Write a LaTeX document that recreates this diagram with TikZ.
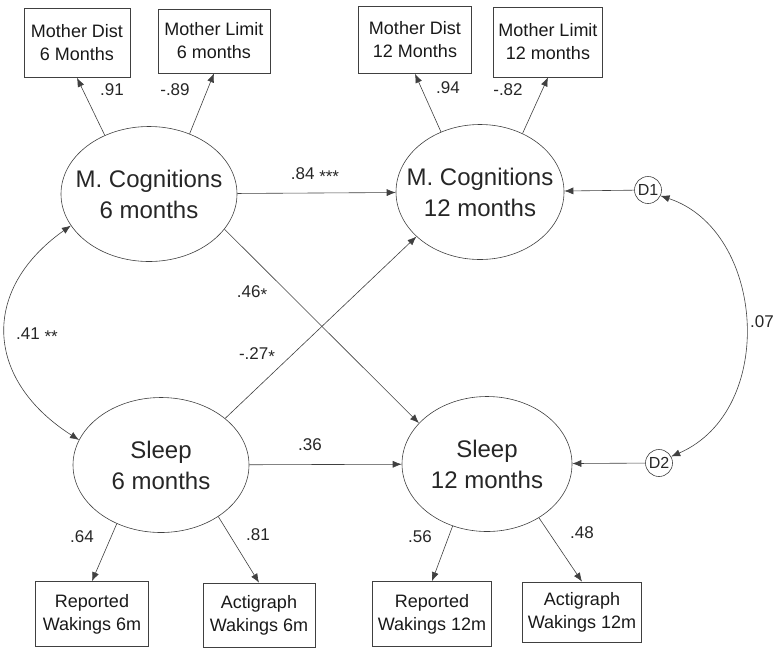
\documentclass[tikz,border=0pt]{standalone}
\usepackage{fontspec}
\setmainfont{Liberation Sans}
\usetikzlibrary{shapes,arrows.meta}

\begin{document}
\begin{tikzpicture}[x=1pt, y=-1pt, >={Latex[length=9pt,width=7pt]},
  lat/.style={ellipse, draw=black!75, line width=0.6pt, inner xsep=-14pt, inner ysep=0pt, minimum width=176pt, minimum height=135pt, align=center, text=black!85, font=\fontsize{24}{31}\selectfont},
  obs/.style={rectangle, draw=black!75, line width=0.7pt, minimum width=112pt, minimum height=66pt, inner xsep=2pt, align=center, text=black!90, font=\fontsize{18}{23}\selectfont},
  err/.style={circle, draw=black!75, line width=0.6pt, minimum size=27pt, inner sep=0pt, text=black!85, font=\fontsize{16}{18}\selectfont},
  arr/.style={draw=black!75, line width=0.6pt, ->},
  coef/.style={text=black!85, font=\fontsize{17}{19}\selectfont}]
\useasboundingbox (0,0) rectangle (781,657);
\node[lat] (mc6) at (149,194) {M. Cognitions\\6 months};
\node[lat, minimum width=168pt] (mc12) at (480,192) {M. Cognitions\\12 months};
\node[lat] (sl6) at (161,465) {Sleep\\6 months};
\node[lat, minimum width=170pt] (sl12) at (487,464) {Sleep\\12 months};
\node[obs, minimum width=106pt, minimum height=69pt] (md6) at (77,43) {Mother Dist\\6 Months};
\node[obs, minimum height=64pt] (ml6) at (214,41) {Mother Limit\\6 months};
\node[obs, minimum width=113pt, minimum height=67pt] (md12) at (415,40) {Mother Dist\\12 Months};
\node[obs, minimum width=109pt, minimum height=70pt] (ml12) at (548,42) {Mother Limit\\12 months};
\node[obs, minimum width=113pt, minimum height=65pt] (rw6) at (92,614) {Reported\\Wakings 6m};
\node[obs, minimum height=64pt] (aw6) at (259,615) {Actigraph\\Wakings 6m};
\node[obs, minimum width=119pt, minimum height=65pt] (rw12) at (432,614) {Reported\\Wakings 12m};
\node[obs, minimum width=119pt, minimum height=60pt] (aw12) at (582,612) {Actigraph\\Wakings 12m};
\node[err] (d1) at (648,190) {D1};
\node[err] (d2) at (659,463) {D2};
\draw[arr] (mc6.127) -- (md6.south);
\draw[arr] (mc6.56) -- (ml6.south);
\draw[arr] (mc12.123) -- (md12.south);
\draw[arr] (mc12.54) -- (ml12.south);
\draw[arr] (sl6.233) -- (rw6.north);
\draw[arr] (sl6.318) -- (aw6.north);
\draw[arr] (sl12.241) -- (rw12.north);
\draw[arr] (sl12.314) -- (aw12.north);
\draw[arr] (mc6) -- (mc12);
\draw[arr] (sl6) -- (sl12);
\draw[arr] (mc6.335) -- (sl12.149);
\draw[arr] (sl6.36) -- (mc12.215);
\draw[arr] (d1) -- (mc12);
\draw[arr] (d2) -- (sl12);
\draw[arr, <->] (mc6.202) .. controls (-20,290) and (-15,380) .. (sl6.163);
\draw[arr, <->] (d1.335) .. controls (765,230) and (778,410) .. (d2.28);
\node[coef] (l91) at (112,90) {.91};
\node[coef] (l89) at (175,90) {-.89};
\node[coef] (l94) at (448,88) {.94};
\node[coef] (l82) at (508,90) {-.82};
\node[coef] (l84) at (315,175) {.84 \raisebox{-.2em}{***}};
\node[coef] (l46) at (252,293) {.46\raisebox{-.2em}{*}};
\node[coef] (l27) at (257,355) {-.27\raisebox{-.2em}{*}};
\node[coef] (l41) at (37,335) {.41 \raisebox{-.2em}{**}};
\node[coef] (l36) at (310,445) {.36};
\node[coef] (l64) at (82,537) {.64};
\node[coef] (l81) at (258,535) {.81};
\node[coef] (l56) at (420,537) {.56};
\node[coef] (l48) at (582,533) {.48};
\node[coef, anchor=west, inner sep=0pt] (l07) at (750,322) {.07};
\end{tikzpicture}
\end{document}
